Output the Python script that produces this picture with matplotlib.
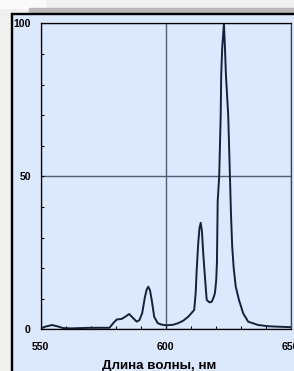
import numpy as np
import matplotlib.pyplot as plt
from matplotlib.patches import Rectangle
from matplotlib.ticker import MultipleLocator

# spectrum (wavelength, nm / relative intensity, %)
wavelength = [550, 552, 554.5, 557, 559, 562, 566, 570, 574, 577.5,
              579, 580.4, 582.4, 584, 585.4, 586.8, 588.4, 589.5, 590.6, 591.7,
              592.4, 593, 593.7, 594.4, 595.4, 596.8, 598.5, 600.4, 603, 605,
              607, 609, 611.4, 612, 612.4, 613, 613.5, 614, 614.5, 615,
              615.7, 616.4, 617.5, 618.4, 619.2, 619.7, 620.2, 620.5, 620.8, 621.4,
              622, 622.2, 622.6, 623.3, 623.7, 624.1, 625, 625.7, 626.1, 626.6,
              627.2, 628, 629.3, 631, 633, 637, 641, 645, 650]
intensity = [0.3, 0.9, 1.4, 0.9, 0.4, 0.3, 0.4, 0.5, 0.5, 0.5,
             2.0, 3.2, 3.4, 4.2, 5.0, 3.8, 2.5, 3.0, 5.3, 10.6,
             13.0, 13.9, 12.8, 9.6, 4.1, 2.0, 1.5, 1.3, 1.5, 2.0,
             2.8, 4.1, 6.3, 12, 19.4, 28, 33, 34.8, 32, 25,
             17, 9.6, 8.8, 9.0, 10.5, 11.9, 16, 22, 42, 50,
             70, 83, 92, 100, 92, 83, 70, 50, 38, 27,
             20, 14, 9.6, 5.2, 2.5, 1.4, 1.0, 0.85, 0.7]

x_ticks = [550, 600, 650]
y_ticks = [0, 50, 100]

panel = '#dce8fc'
line_col = '#14213a'
grid_col = '#4f5d73'

plt.rcParams['font.family'] = ['Liberation Sans', 'DejaVu Sans']
plt.rcParams['font.weight'] = 'bold'

W, H = 294, 371
fig = plt.figure(figsize=(W / 100, H / 100), dpi=100, facecolor='#f0f0f0')

# background decorations (pixel coords -> figure fraction)
def px_rect(x0, y0, x1, y1, **kw):
    fig.patches.append(Rectangle((x0 / W, 1 - y1 / H), (x1 - x0) / W, (y1 - y0) / H,
                                 transform=fig.transFigure, figure=fig, **kw))

px_rect(0, 0, 45, 8, color='#fafafa', zorder=0)
px_rect(29, 8, W, 13, color='#b8b8b8', zorder=0)
px_rect(11, 13, W, H, facecolor=panel, edgecolor='none', zorder=0)
px_rect(11, 13, W, 14, color='black', zorder=1)
px_rect(11, 13, 12, H, color='black', zorder=1)

ax = fig.add_axes([40.7 / W, 1 - 329.3 / H, 250 / W, 306 / H])
ax.set_zorder(5)
ax.set_facecolor(panel)
ax.plot(wavelength, intensity, color=line_col, lw=1.4, zorder=3)

ax.set_xlim(550, 650)
ax.set_ylim(0, 100)
ax.set_xticks(x_ticks)
ax.set_yticks(y_ticks)
ax.xaxis.set_minor_locator(MultipleLocator(10))
ax.yaxis.set_minor_locator(MultipleLocator(10))
ax.tick_params(axis='both', which='both', direction='in', length=2, width=0.8,
               color='black', labelsize=7.6)
ax.tick_params(axis='x', pad=9.5)
ax.tick_params(axis='y', pad=7)
ax.grid(True, which='major', color=grid_col, lw=1.0)
for s in ax.spines.values():
    s.set_linewidth(0.9)
    s.set_color('black')
    s.set_zorder(4)
ax.spines['right'].set_color('#3c4656')

ax.set_xlabel('Длина волны, нм', fontsize=9.6, fontweight='bold',
              va='baseline')
ax.xaxis.set_label_coords((159 - 40.7) / 250, (329.3 - 369) / 306)

fig.savefig('out.png', dpi=100, facecolor=fig.get_facecolor())
